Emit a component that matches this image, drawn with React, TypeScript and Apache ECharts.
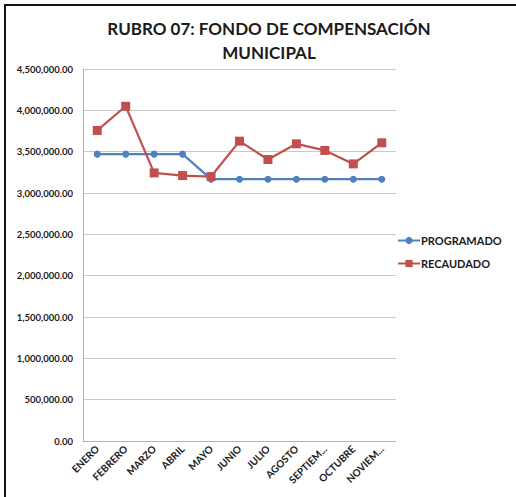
import React, { useEffect, useRef } from "react";
import * as echarts from "echarts";

const categories = ["ENERO", "FEBRERO", "MARZO", "ABRIL", "MAYO", "JUNIO", "JULIO", "AGOSTO", "SEPTIEM...", "OCTUBRE", "NOVIEM..."];
const programado = [3470000, 3470000, 3470000, 3470000, 3167000, 3167000, 3167000, 3167000, 3167000, 3167000, 3167000];
const recaudado = [3757000, 4049000, 3243000, 3211000, 3199000, 3627000, 3405000, 3595000, 3515000, 3352000, 3607000];
const titleLines = ["RUBRO 07: FONDO DE COMPENSACIÓN", "MUNICIPAL"];

const fmt = (v: number) =>
  v.toLocaleString("en-US", { minimumFractionDigits: 2, maximumFractionDigits: 2 });

export default function App() {
  const ref = useRef<HTMLDivElement>(null);
  useEffect(() => {
    document.body.style.margin = "0";
    const chart = echarts.init(ref.current!, undefined, { renderer: "svg" });
    const font = "Lato, 'Open Sans', sans-serif";
    chart.setOption({
      animation: false,
      backgroundColor: "#fff",
      title: {
        text: titleLines.join("\n"),
        left: 264,
        textAlign: "center",
        top: 11,
        textStyle: { fontFamily: font, fontSize: 17, fontWeight: "bold", color: "#1a1a1a", lineHeight: 24 },
      },
      grid: { left: 83, right: 120, top: 69, bottom: 56, containLabel: false },
      legend: {
        orient: "vertical",
        left: 392,
        top: 230,
        itemGap: 12,
        itemWidth: 22,
        itemHeight: 9,
        textStyle: { fontFamily: font, fontSize: 11, fontWeight: "bold", color: "#1a1a1a", padding: [0, 0, 0, -4] },
        data: ["PROGRAMADO", "RECAUDADO"],
      },
      xAxis: {
        type: "category",
        data: categories,
        boundaryGap: true,
        axisLine: { lineStyle: { color: "#b3b3b3" } },
        axisTick: { show: false },
        axisLabel: {
          rotate: 45,
          interval: 0,
          fontFamily: font,
          fontSize: 10,
          fontWeight: "bold",
          color: "#1a1a1a",
          margin: 6,
        },
      },
      yAxis: {
        type: "value",
        min: 0,
        max: 4500000,
        interval: 500000,
        axisLine: { show: true, lineStyle: { color: "#b3b3b3" } },
        axisTick: { show: false },
        splitLine: { lineStyle: { color: "#c8c8c8" } },
        axisLabel: {
          formatter: (v: number) => fmt(v),
          fontFamily: font,
          fontSize: 9.5,
          fontWeight: "bold",
          color: "#1a1a1a",
          margin: 10,
        },
      },
      series: [
        {
          name: "PROGRAMADO",
          type: "line",
          data: programado,
          symbol: "circle",
          symbolSize: 7,
          color: "#4F81BD",
          lineStyle: { width: 2.2, color: "#4F81BD" },
          itemStyle: { color: "#4F81BD" },
        },
        {
          name: "RECAUDADO",
          type: "line",
          data: recaudado,
          symbol: "rect",
          symbolSize: 9,
          color: "#C0504D",
          lineStyle: { width: 2.2, color: "#C0504D" },
          itemStyle: { color: "#C0504D" },
        },
      ],
    });
    return () => chart.dispose();
  }, []);
  return (
    <div style={{ position: "relative", width: 516, height: 497 }}>
      <div ref={ref} style={{ position: "absolute", left: 0, top: 0, width: 516, height: 497 }} />
      <div
        style={{
          position: "absolute",
          left: 4,
          top: 4,
          width: 520,
          height: 500,
          borderLeft: "2px solid #111",
          borderTop: "2px solid #111",
          pointerEvents: "none",
        }}
      />
    </div>
  );
}
